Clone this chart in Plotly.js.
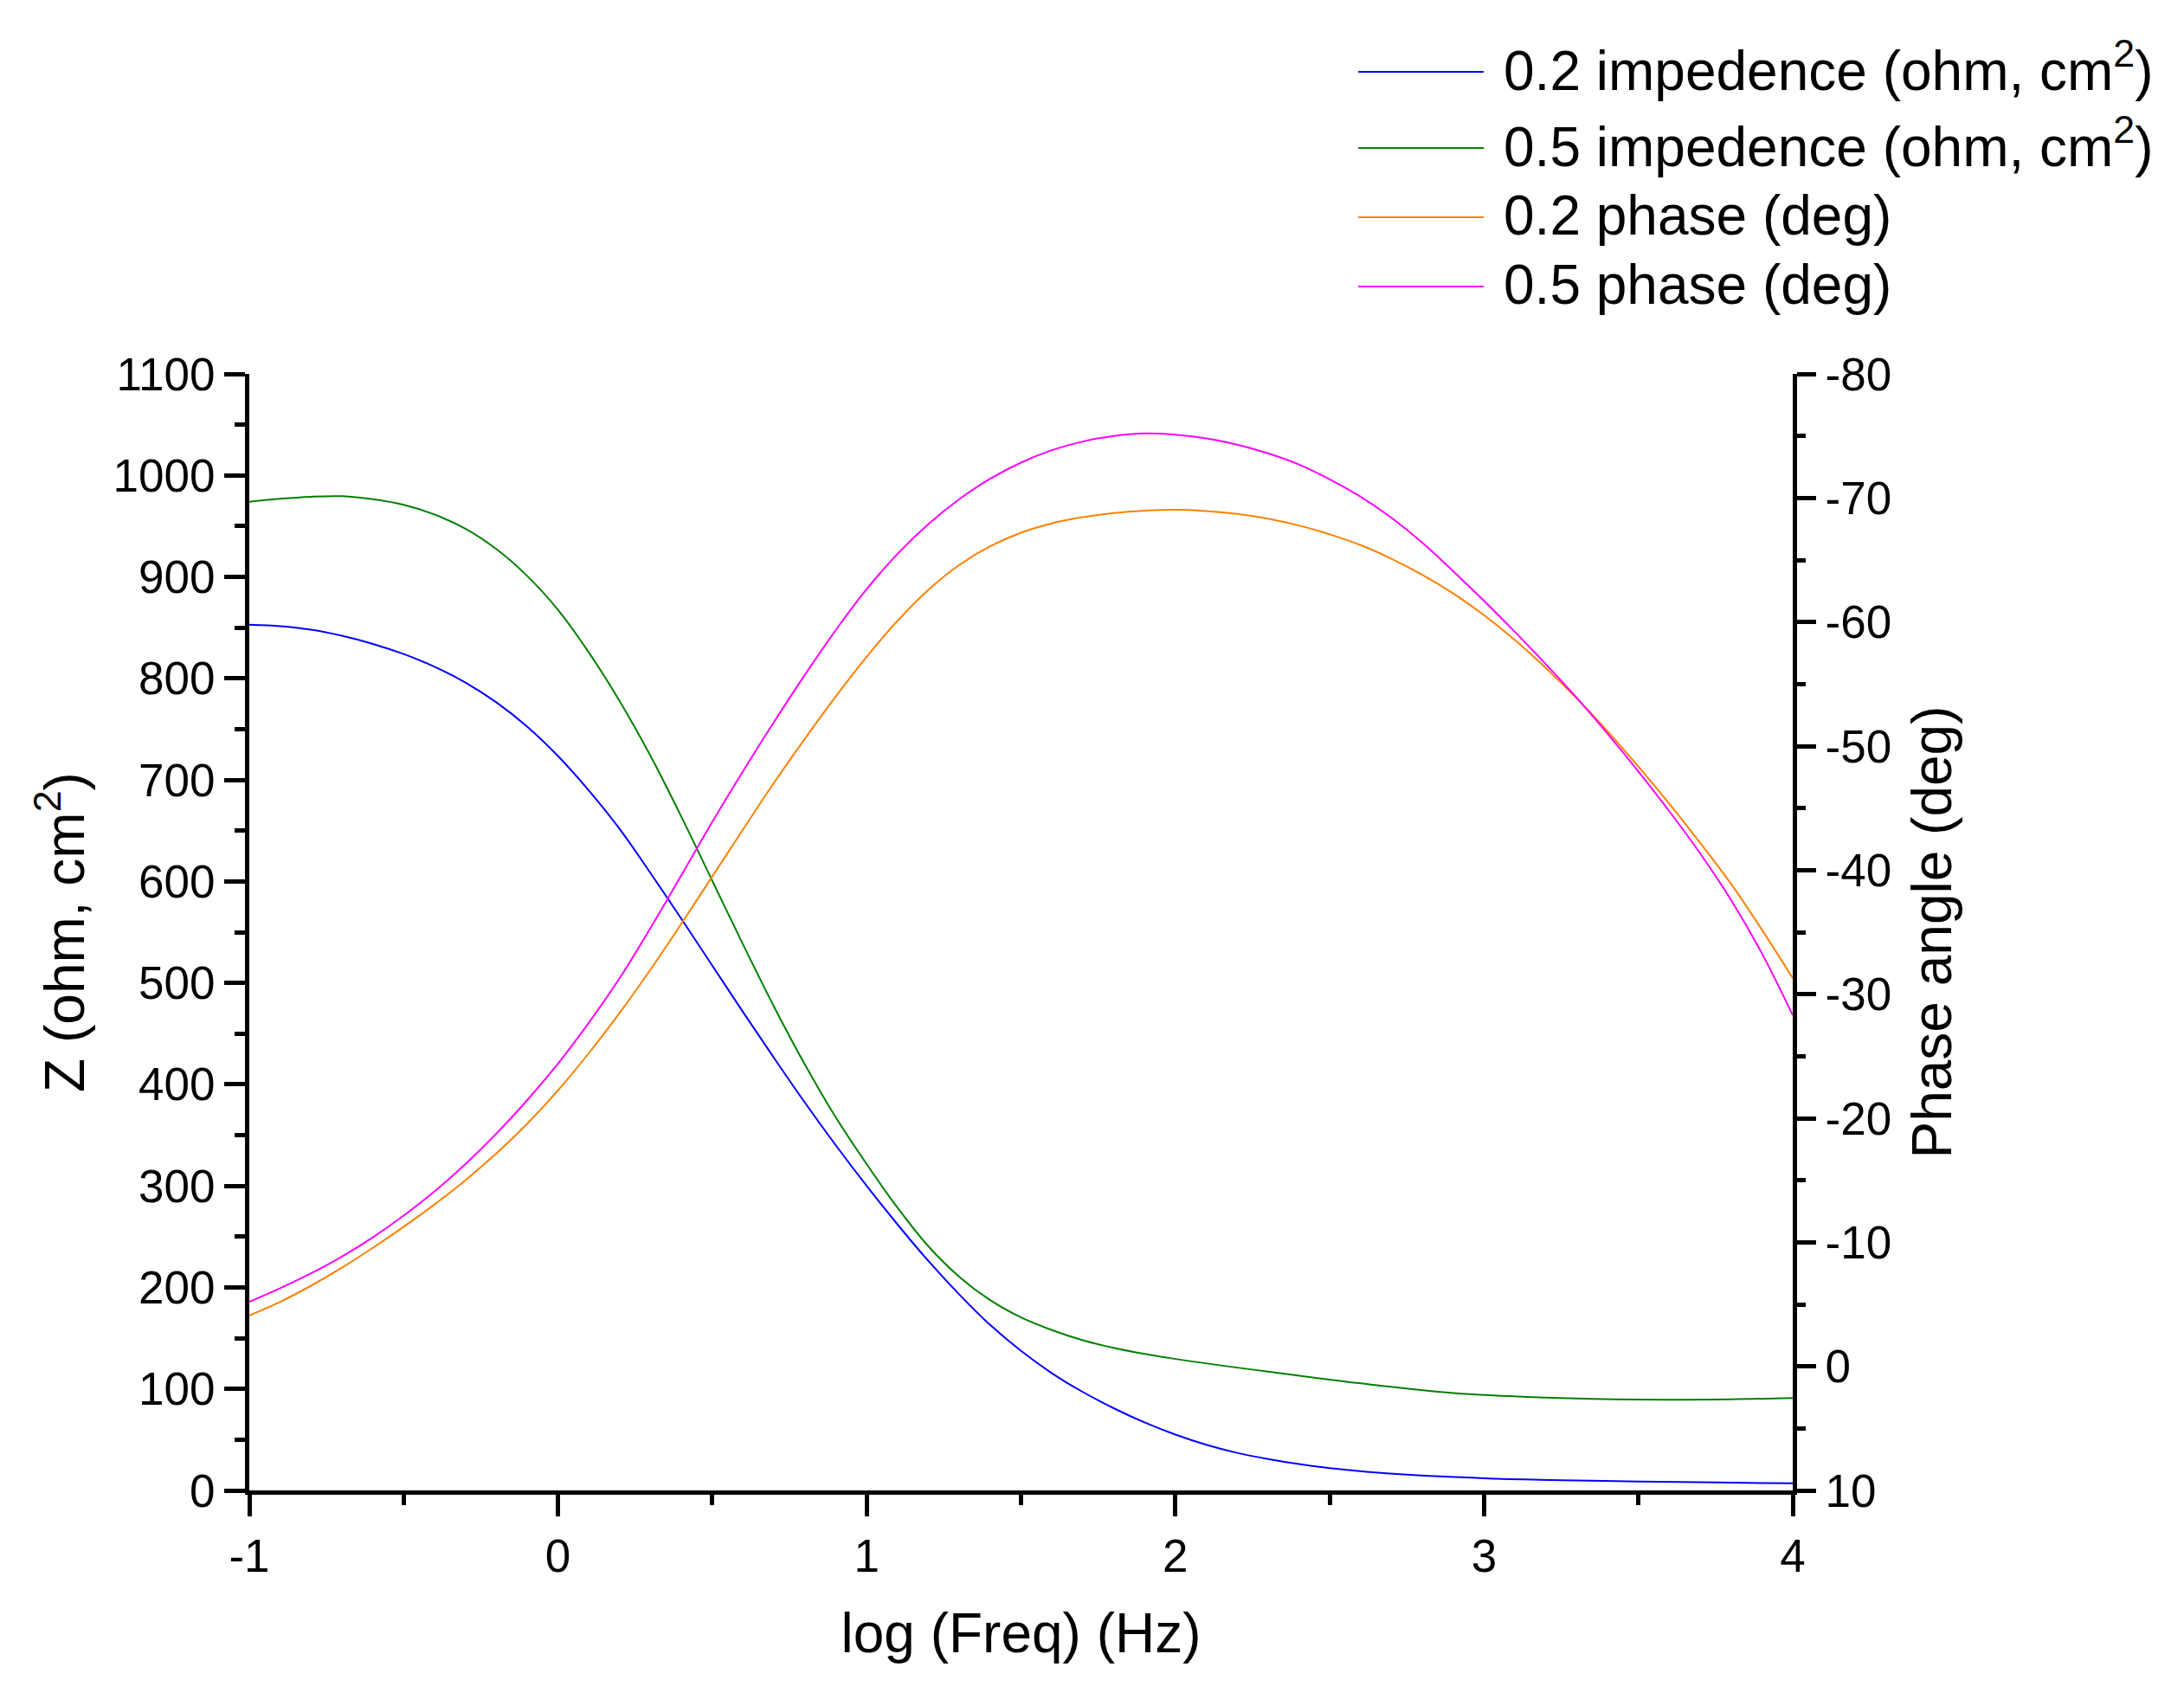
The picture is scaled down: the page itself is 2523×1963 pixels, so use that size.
<!DOCTYPE html>
<html>
<head>
<meta charset="utf-8">
<script src="https://cdn.plot.ly/plotly-3.0.1.min.js"></script>
<style>html,body{margin:0;padding:0;background:#fff;}#chart{width:2523px;height:1963px;}</style>
</head>
<body>
<div id="chart"></div>
<script>
// ---- data ----
const seriesNames = [
  '0.2 impedence (ohm, cm<sup>2</sup>)',
  '0.5 impedence (ohm, cm<sup>2</sup>)',
  '0.2 phase (deg)',
  '0.5 phase (deg)'
];
const seriesColors = ['#0000FF', '#008000', '#FF8000', '#FF00FF'];

const logFreqZ02 = [-1, -0.9, -0.8, -0.7, -0.6, -0.5, -0.4, -0.3, -0.2, -0.1, 0, 0.1, 0.2, 0.3, 0.4, 0.5, 0.6, 0.7, 0.8, 0.9, 1.0, 1.1, 1.2, 1.3, 1.4, 1.5, 1.6, 1.7, 1.8, 1.9, 2.0, 2.1, 2.2, 2.3, 2.4, 2.5, 2.75, 3.0, 3.25, 3.5, 3.75, 4.0];
const impedance02 = [853, 851.5, 848, 842, 834, 824, 811.5, 796, 776.5, 752.5, 723.5, 689.5, 651.5, 608, 563, 517, 471, 426, 382, 340, 300, 262, 226, 193, 163, 137.5, 115.5, 97, 81, 67, 55, 45, 37, 31, 26, 22, 15.5, 12, 10, 8.8, 7.8, 7];

const logFreqZ05 = [-1, -0.9, -0.8, -0.7, -0.6, -0.5, -0.4, -0.3, -0.2, -0.1, 0, 0.1, 0.2, 0.3, 0.4, 0.5, 0.6, 0.7, 0.8, 0.9, 1.0, 1.1, 1.2, 1.3, 1.4, 1.5, 1.6, 1.7, 1.8, 1.9, 2.0, 2.3, 2.6, 2.9, 3.2, 3.5, 3.8, 4.0];
const impedance05 = [974, 977, 979, 979.5, 976.5, 971, 961.5, 947.5, 927.5, 901, 867.5, 825.5, 777.5, 723.5, 663.5, 600.5, 537.5, 476.5, 419.5, 367.5, 321.5, 278.5, 240.5, 210.5, 187.5, 170.5, 158, 148, 140.5, 134.5, 129.5, 117, 105.5, 96, 91.5, 89.5, 89.8, 91];

const logFreqP02 = [-1, -0.9, -0.8, -0.7, -0.6, -0.5, -0.4, -0.3, -0.2, -0.1, 0, 0.1, 0.2, 0.3, 0.4, 0.5, 0.6, 0.7, 0.8, 0.9, 1.0, 1.1, 1.2, 1.3, 1.4, 1.5, 1.6, 1.7, 1.8, 1.9, 2.0, 2.1, 2.2, 2.3, 2.4, 2.5, 2.6, 2.7, 2.8, 2.9, 3.0, 3.1, 3.2, 3.3, 3.4, 3.5, 3.6, 3.7, 3.8, 3.9, 4.0];
const phase02 = [-4.1, -5.2, -6.5, -7.95, -9.55, -11.25, -13.05, -15.0, -17.15, -19.55, -22.25, -25.25, -28.5, -32.0, -35.7, -39.5, -43.3, -47.05, -50.6, -54.0, -57.2, -60.1, -62.6, -64.6, -66.1, -67.2, -67.95, -68.45, -68.78, -68.97, -69.04, -68.95, -68.72, -68.33, -67.78, -67.07, -66.2, -65.1, -63.8, -62.3, -60.55, -58.55, -56.3, -53.85, -51.2, -48.35, -45.35, -42.2, -38.9, -35.2, -31.3];

const logFreqP05 = [-1, -0.9, -0.8, -0.7, -0.6, -0.5, -0.4, -0.3, -0.2, -0.1, 0, 0.1, 0.2, 0.3, 0.4, 0.5, 0.6, 0.7, 0.8, 0.9, 1.0, 1.1, 1.2, 1.3, 1.4, 1.5, 1.6, 1.7, 1.8, 1.9, 2.0, 2.1, 2.2, 2.3, 2.4, 2.5, 2.6, 2.7, 2.8, 2.9, 3.0, 3.1, 3.2, 3.3, 3.4, 3.5, 3.6, 3.7, 3.8, 3.9, 4.0];
const phase05 = [-5.2, -6.3, -7.5, -8.85, -10.4, -12.15, -14.1, -16.3, -18.75, -21.45, -24.4, -27.7, -31.3, -35.35, -39.6, -43.9, -48.0, -51.95, -55.75, -59.35, -62.65, -65.5, -67.9, -69.9, -71.55, -72.85, -73.85, -74.55, -75.0, -75.2, -75.1, -74.8, -74.3, -73.6, -72.7, -71.5, -70.1, -68.4, -66.4, -64.1, -61.7, -59.2, -56.6, -53.9, -51.0, -47.95, -44.75, -41.35, -37.6, -33.3, -28.3];

const xTickVals = [-1, 0, 1, 2, 3, 4];
const yTickVals = [0, 100, 200, 300, 400, 500, 600, 700, 800, 900, 1000, 1100];
const y2TickVals = [-80, -70, -60, -50, -40, -30, -20, -10, 0, 10];

const xTitle = 'log (Freq) (Hz)';
const yTitle = 'Z (ohm, cm<sup>2</sup>)';
const y2Title = 'Phase angle (deg)';

// ---- chart ----
const FONT = 'Arial, "Liberation Sans", sans-serif';
const xs = [logFreqZ02, logFreqZ05, logFreqP02, logFreqP05];
const ys = [impedance02, impedance05, phase02, phase05];
const axes = ['y', 'y', 'y2', 'y2'];

const traces = xs.map((x, i) => ({
  x: x, y: ys[i], yaxis: axes[i], name: seriesNames[i],
  type: 'scatter', mode: 'lines',
  line: {color: seriesColors[i], width: 2, shape: 'spline', smoothing: 1},
  showlegend: false, hoverinfo: 'skip'
}));

// custom legend (long line samples like the original)
const legendRowsY = [1.2705, 1.2023, 1.1403, 1.0783];
const shapes = [];
const annotations = [];
seriesNames.forEach((n, i) => {
  shapes.push({type: 'line', xref: 'paper', yref: 'paper',
    x0: 0.7185, x1: 0.7998, y0: legendRowsY[i], y1: legendRowsY[i],
    line: {color: seriesColors[i], width: 2}});
  annotations.push({xref: 'paper', yref: 'paper', x: 0.8115, y: legendRowsY[i],
    xanchor: 'left', yanchor: 'middle', showarrow: false, text: n,
    yshift: (i < 2 ? 6 : 2),
    font: {family: FONT, size: 64, color: '#000'}});
});

const labelOf = v => String(v); // plain hyphen minus, as in the original
const axisCommon = {
  showline: true, linecolor: '#000', linewidth: 5,
  showgrid: false, zeroline: false,
  ticks: 'outside', tickcolor: '#000', tickwidth: 5,
  tickfont: {family: FONT, size: 53, color: '#000'},
  automargin: false
};

const layout = {
  width: 2523, height: 1963,
  paper_bgcolor: '#fff', plot_bgcolor: '#fff',
  margin: {l: 288, r: 452, t: 432, b: 241},
  font: {family: FONT, color: '#000'},
  showlegend: false,
  xaxis: Object.assign({}, axisCommon, {
    range: [-1, 4], tickmode: 'array', tickvals: xTickVals, ticktext: xTickVals.map(labelOf), ticklen: 25,
    minor: {dtick: 0.5, tick0: -1, ticks: 'outside', ticklen: 12, tickwidth: 5, tickcolor: '#000', showgrid: false},
    title: {text: xTitle, font: {family: FONT, size: 64, color: '#000'}, standoff: 40}
  }),
  yaxis: Object.assign({}, axisCommon, {
    range: [0, 1100], tickmode: 'array', tickvals: yTickVals, ticktext: yTickVals.map(labelOf), ticklen: 24,
    minor: {dtick: 50, tick0: 0, ticks: 'outside', ticklen: 12, tickwidth: 5, tickcolor: '#000', showgrid: false},
    title: {text: yTitle, font: {family: FONT, size: 64, color: '#000'}, standoff: 14}
  }),
  yaxis2: Object.assign({}, axisCommon, {
    overlaying: 'y', side: 'right', anchor: 'x',
    range: [10, -80], tickmode: 'array', tickvals: y2TickVals, ticktext: y2TickVals.map(labelOf), ticklen: 22,
    minor: {dtick: 5, tick0: 0, ticks: 'outside', ticklen: 10, tickwidth: 5, tickcolor: '#000', showgrid: false},
    title: {text: y2Title, font: {family: FONT, size: 64, color: '#000'}, standoff: 26}
  }),
  shapes: shapes,
  annotations: annotations
};

Plotly.newPlot('chart', traces, layout, {displayModeBar: false, staticPlot: true});
</script>
</body>
</html>
